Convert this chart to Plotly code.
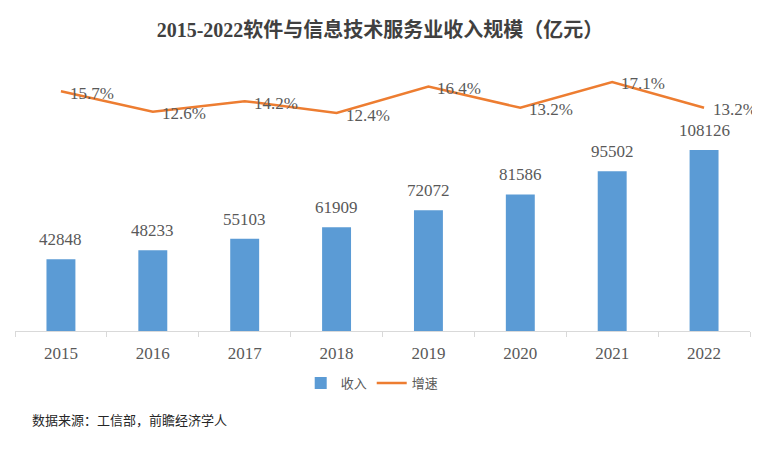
import plotly.graph_objects as go

years = ["2015", "2016", "2017", "2018", "2019", "2020", "2021", "2022"]
revenue = [42848, 48233, 55103, 61909, 72072, 81586, 95502, 108126]
growth = [15.7, 12.6, 14.2, 12.4, 16.4, 13.2, 17.1, 13.2]

SERIF = "Liberation Serif, Times New Roman, Noto Sans CJK SC, serif"
GRAY = "#595959"

fig = go.Figure()
fig.add_trace(go.Bar(
    x=years, y=revenue, name="收入",
    marker=dict(color="#5B9BD5", line=dict(width=0)),
    yaxis="y",
))
fig.add_trace(go.Scatter(
    x=years, y=growth, name="增速", mode="lines",
    line=dict(color="#ED7D31", width=2.5),
    yaxis="y2",
))

annotations = []
for i, v in enumerate(revenue):
    annotations.append(dict(
        x=i, y=v, xref="x", yref="y", text=str(v), showarrow=False,
        xanchor="center", yanchor="bottom", yshift=8,
        font=dict(family=SERIF, size=17, color=GRAY),
    ))
for i, g in enumerate(growth):
    annotations.append(dict(
        x=i, y=g, xref="x", yref="y2", text=f"{g:.1f}%", showarrow=False,
        xanchor="left", yanchor="middle", xshift=7, yshift=-2,
        font=dict(family=SERIF, size=17, color=GRAY),
    ))
annotations.append(dict(
    x=0.0204, y=-0.328, xref="paper", yref="paper",
    text="数据来源：工信部，前瞻经济学人", showarrow=False,
    xanchor="left", yanchor="middle",
    font=dict(family="Noto Sans CJK SC, sans-serif", size=13, color="#262626"),
))

fig.update_layout(
    width=760, height=449,
    margin=dict(l=7, r=18, t=52, b=126),
    paper_bgcolor="white", plot_bgcolor="white",
    title=dict(
        text="<b>2015-2022软件与信息技术服务业收入规模（亿元）</b>",
        x=372 / 760, xanchor="center", y=1 - 22 / 449, yanchor="middle",
        font=dict(family=SERIF, size=20, color="#404040"),
    ),
    bargap=0.685,
    showlegend=True,
    legend=dict(
        orientation="h", x=0.486, xanchor="center", y=-0.192, yanchor="middle",
        font=dict(family="Noto Sans CJK SC, sans-serif", size=13, color=GRAY),
        itemwidth=30,
    ),
    xaxis=dict(
        type="category", range=[-0.5, len(years) - 0.5],
        showline=True, linecolor="#D9D9D9", linewidth=1,
        ticks="outside", tickson="boundaries", ticklen=5, tickcolor="#D9D9D9",
        tickfont=dict(family=SERIF, size=17, color=GRAY),
        ticklabelstandoff=7, tickangle=0,
        showgrid=False, zeroline=False,
    ),
    yaxis=dict(range=[0, 161890], visible=False, showgrid=False, zeroline=False),
    yaxis2=dict(range=[-20.6, 20.43], overlaying="y", visible=False,
                showgrid=False, zeroline=False),
    annotations=annotations,
)

fig.write_html("out.html")
